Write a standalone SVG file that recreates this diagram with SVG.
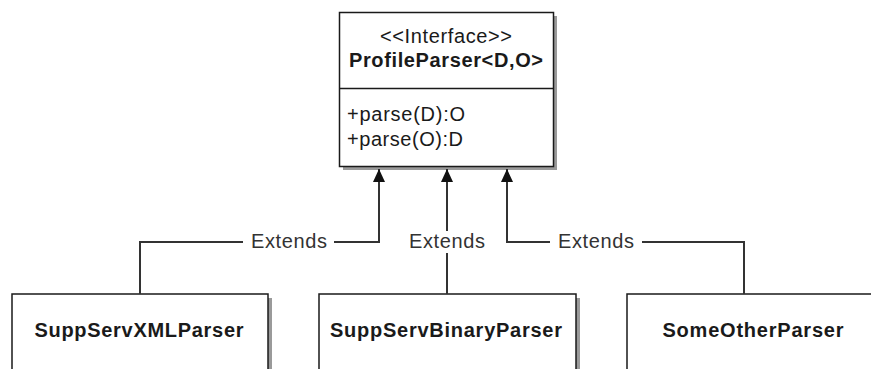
<svg xmlns="http://www.w3.org/2000/svg" width="871" height="369" viewBox="0 0 871 369">
<defs>
<style>
.box{fill:#fff;stroke:#1a1a1a;stroke-width:1.5}
.shadow{fill:#9a9a9a}
.t{font-family:"Liberation Sans",Arial,sans-serif;font-size:20px;fill:#1a1a1a}
.b{font-weight:bold}
.c{text-anchor:middle}
.line{fill:none;stroke:#333;stroke-width:2}
.lbl{font-family:"Liberation Sans",Arial,sans-serif;font-size:20px;fill:#333;text-anchor:middle}
</style>
<marker id="arr" viewBox="0 0 13 12" refX="13" refY="6" markerWidth="13" markerHeight="12" markerUnits="userSpaceOnUse" orient="auto">
<path d="M0,0 L13,6 L0,12 Z" fill="#111"/>
</marker>
</defs>
<rect width="871" height="369" fill="#fff"/>
<g id="ProfileParser">
<rect class="shadow" x="343" y="16" width="214" height="154"/>
<rect class="box" x="339.5" y="12.5" width="214" height="154"/>
<line x1="339.5" y1="88.5" x2="553.5" y2="88.5" stroke="#1a1a1a" stroke-width="1.5"/>
<text class="t c" x="446" y="43" textLength="132" lengthAdjust="spacing">&lt;&lt;Interface&gt;&gt;</text>
<text class="t b c" x="446" y="67" textLength="194" lengthAdjust="spacing">ProfileParser&lt;D,O&gt;</text>
<text class="t" x="347" y="121" textLength="118" lengthAdjust="spacing">+parse(D):O</text>
<text class="t" x="347" y="146" textLength="116" lengthAdjust="spacing">+parse(O):D</text>
</g>
<g id="SuppServXMLParser">
<rect class="shadow" x="16" y="298" width="256" height="90"/>
<rect class="box" x="12" y="294" width="256" height="90"/>
<text class="t b c" x="139" y="337" textLength="209" lengthAdjust="spacing">SuppServXMLParser</text>
</g>
<g id="SuppServBinaryParser">
<rect class="shadow" x="323" y="298" width="257" height="90"/>
<rect class="box" x="319" y="294" width="257" height="90"/>
<text class="t b c" x="446" y="337" textLength="232" lengthAdjust="spacing">SuppServBinaryParser</text>
</g>
<g id="SomeOtherParser">
<rect class="box" x="627" y="294" width="260" height="90"/>
<text class="t b c" x="753" y="337" textLength="181" lengthAdjust="spacing">SomeOtherParser</text>
</g>
<g id="connectors">
<path class="line" d="M140,294 V242 H243"/>
<path class="line" d="M334,242 H379 V169" marker-end="url(#arr)"/>
<path class="line" d="M447,294 V253"/>
<path class="line" d="M447,231 V169" marker-end="url(#arr)"/>
<path class="line" d="M744,294 V242 H642"/>
<path class="line" d="M550,242 H507 V169" marker-end="url(#arr)"/>
<text class="lbl" x="289" y="248" textLength="76" lengthAdjust="spacing">Extends</text>
<text class="lbl" x="447" y="248" textLength="76" lengthAdjust="spacing">Extends</text>
<text class="lbl" x="596" y="248" textLength="76" lengthAdjust="spacing">Extends</text>
</g>
</svg>
